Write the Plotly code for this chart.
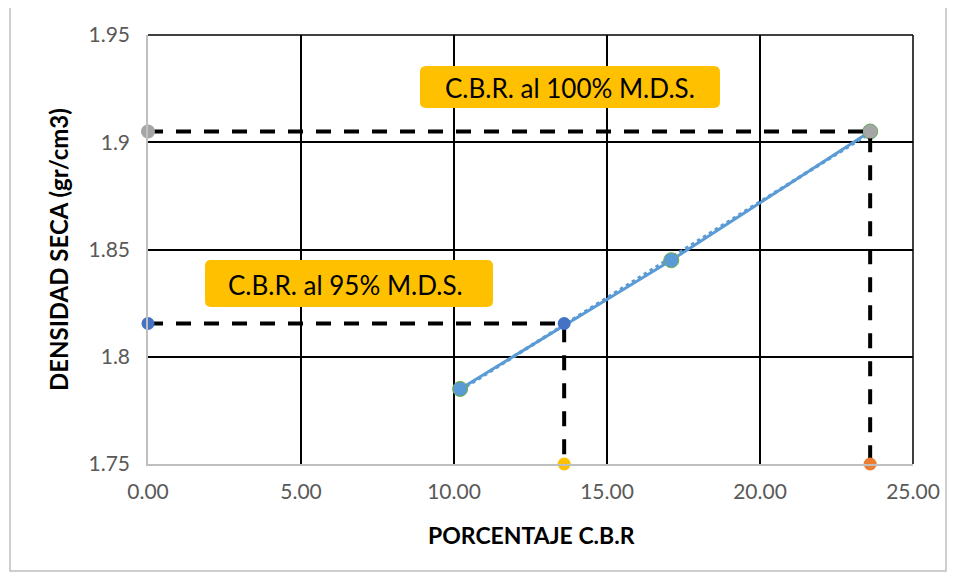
import numpy as np
import plotly.graph_objects as go

# Data
cbr = [10.2, 17.1, 23.6]
dens = [1.785, 1.845, 1.905]
cbr95, dens95 = 13.6, 1.8155
cbr100, dens100 = 23.6, 1.905
y_min = 1.75
x_ticks = [0, 5, 10, 15, 20, 25]
x_ticklabels = ["0.00", "5.00", "10.00", "15.00", "20.00", "25.00"]
y_ticks = [1.75, 1.8, 1.85, 1.9, 1.95]
y_ticklabels = ["1.75", "1.8", "1.85", "1.9", "1.95"]
label100 = "C.B.R. al 100% M.D.S."
label95 = "C.B.R. al 95% M.D.S."
x_title = "PORCENTAJE C.B.R"
y_title = "DENSIDAD SECA (gr/cm3)"

FONT = "Lato, Noto Sans, sans-serif"
OFF = 8  # page body margin
W, H = 956 - OFF, 578 - OFF
# plot area in page pixels
PX0, PX1, PY0, PY1 = 148, 913, 35, 464
L, T = PX0 - OFF, PY0 - OFF
R, B = W + OFF - PX1, H + OFF - PY1
PW, PH = PX1 - PX0, PY1 - PY0

fig = go.Figure()

# trendline (dotted)
coef = np.polyfit(cbr, dens, 1)
tx = [min(cbr), max(cbr)]
fig.add_trace(go.Scatter(x=tx, y=[coef[0] * v + coef[1] for v in tx], mode="lines",
                         line=dict(color="#5B9BD5", width=3.5, dash="dot"), hoverinfo="skip"))
# main series
fig.add_trace(go.Scatter(x=cbr, y=dens, mode="lines+markers",
                         line=dict(color="#5B9BD5", width=3),
                         marker=dict(size=15, color="#5B9BD5", line=dict(color="#70AD47", width=1))))

# dashed guide lines
fig.add_trace(go.Scatter(x=[0, cbr100, cbr100], y=[dens100, dens100, y_min], mode="lines",
                         line=dict(color="black", width=4, dash="15px,13px")))
fig.add_trace(go.Scatter(x=[0, cbr95, cbr95], y=[dens95, dens95, y_min], mode="lines",
                         line=dict(color="black", width=4, dash="15px,13px")))

# markers
fig.add_trace(go.Scatter(x=[0, cbr100], y=[dens100, dens100], mode="markers",
                         marker=dict(size=14, color="#A5A5A5"), cliponaxis=False))
fig.add_trace(go.Scatter(x=[0, cbr95], y=[dens95, dens95], mode="markers",
                         marker=dict(size=13, color="#4472C4"), cliponaxis=False))
fig.add_trace(go.Scatter(x=[cbr95], y=[y_min], mode="markers",
                         marker=dict(size=13, color="#FFC000"), cliponaxis=False))
fig.add_trace(go.Scatter(x=[cbr100], y=[y_min], mode="markers",
                         marker=dict(size=13, color="#ED7D31"), cliponaxis=False))


def px2paper(px, py):
    return (px - PX0) / PW, (PY1 - py) / PH


def rounded_box(x0, y0, x1, y1, r=6):
    def p(a, b):
        u, v = px2paper(a, b)
        return f"{u:.5f},{v:.5f}"
    d = (f"M {p(x0 + r, y0)} L {p(x1 - r, y0)} Q {p(x1, y0)} {p(x1, y0 + r)} "
         f"L {p(x1, y1 - r)} Q {p(x1, y1)} {p(x1 - r, y1)} L {p(x0 + r, y1)} "
         f"Q {p(x0, y1)} {p(x0, y1 - r)} L {p(x0, y0 + r)} Q {p(x0, y0)} {p(x0 + r, y0)} Z")
    return dict(type="path", xref="paper", yref="paper", path=d,
                fillcolor="#FFC000", line=dict(width=0), layer="above")


shapes = [rounded_box(420, 66, 720, 108), rounded_box(205, 260, 493, 307)]
# outer chart frame
fx0, fy0 = px2paper(10, 6)
fx1, fy1 = px2paper(946, 571)
shapes.append(dict(type="rect", xref="paper", yref="paper", x0=fx0, y0=fy1, x1=fx1, y1=fy0,
                   line=dict(color="#BFBFBF", width=1.5), layer="below"))
# top and right black borders
shapes.append(dict(type="line", xref="paper", yref="paper", x0=0, x1=1, y0=1, y1=1,
                   line=dict(color="black", width=1.5)))
shapes.append(dict(type="line", xref="paper", yref="paper", x0=1, x1=1, y0=0, y1=1,
                   line=dict(color="black", width=1.5)))

ax100 = px2paper(570, 88)
ax95 = px2paper(345, 285)
axt = px2paper(531, 535)
ayt = px2paper(58, 250)
annotations = [
    dict(x=ax100[0], y=ax100[1], xref="paper", yref="paper", text=label100, showarrow=False,
         xanchor="center", yanchor="middle", font=dict(family=FONT, size=26, color="black")),
    dict(x=ax95[0], y=ax95[1], xref="paper", yref="paper", text=label95, showarrow=False,
         xanchor="center", yanchor="middle", font=dict(family=FONT, size=26, color="black")),
    dict(x=axt[0], y=axt[1], xref="paper", yref="paper", text=f"<b>{x_title}</b>", showarrow=False,
         xanchor="center", yanchor="middle", font=dict(family=FONT, size=23, color="black")),
    dict(x=ayt[0], y=ayt[1], xref="paper", yref="paper", text=f"<b>{y_title}</b>", showarrow=False,
         textangle=-90, xanchor="center", yanchor="middle", font=dict(family=FONT, size=24, color="black")),
]

fig.update_layout(
    width=W, height=H, margin=dict(l=L, r=R, t=T, b=B),
    paper_bgcolor="white", plot_bgcolor="white", showlegend=False,
    shapes=shapes, annotations=annotations,
    xaxis=dict(range=[0, 25], tickvals=x_ticks, ticktext=x_ticklabels, showgrid=True,
               gridcolor="black", gridwidth=1.5, zeroline=False, showline=True,
               linecolor="#BFBFBF", linewidth=1.5, ticks="outside", ticklen=8, tickcolor="rgba(0,0,0,0)",
               tickfont=dict(family=FONT, size=21, color="#595959")),
    yaxis=dict(range=[1.75, 1.95], tickvals=y_ticks, ticktext=y_ticklabels, showgrid=True,
               gridcolor="black", gridwidth=1.5, zeroline=False, showline=True,
               linecolor="#BFBFBF", linewidth=1.5, ticks="outside", ticklen=12, tickcolor="rgba(0,0,0,0)",
               tickfont=dict(family=FONT, size=21, color="#595959")),
)

fig.write_html("out.html")
